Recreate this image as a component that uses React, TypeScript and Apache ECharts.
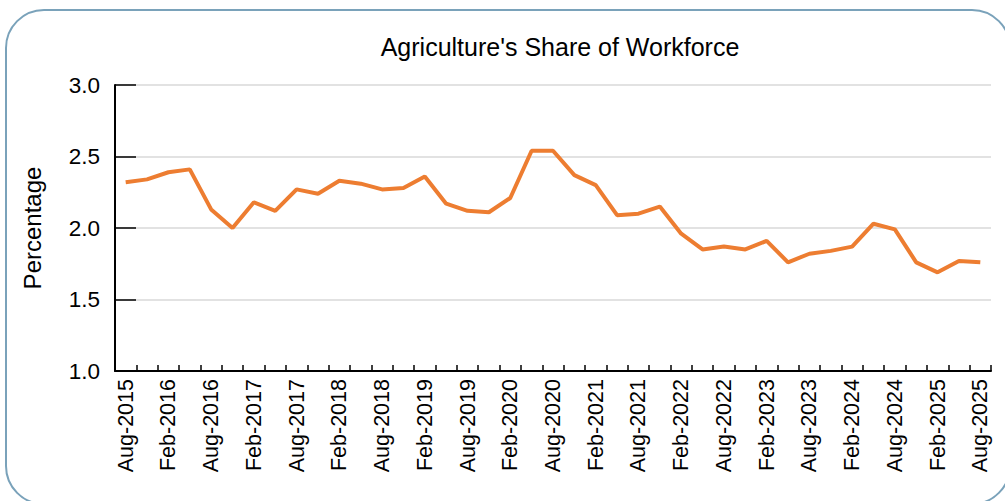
import React, { useEffect, useRef } from "react";
import * as echarts from "echarts";

const categories: string[] = [
  "Aug-2015", "Nov-2015", "Feb-2016", "May-2016", "Aug-2016", "Nov-2016", "Feb-2017", "May-2017",
  "Aug-2017", "Nov-2017", "Feb-2018", "May-2018", "Aug-2018", "Nov-2018", "Feb-2019", "May-2019",
  "Aug-2019", "Nov-2019", "Feb-2020", "May-2020", "Aug-2020", "Nov-2020", "Feb-2021", "May-2021",
  "Aug-2021", "Nov-2021", "Feb-2022", "May-2022", "Aug-2022", "Nov-2022", "Feb-2023", "May-2023",
  "Aug-2023", "Nov-2023", "Feb-2024", "May-2024", "Aug-2024", "Nov-2024", "Feb-2025", "May-2025",
  "Aug-2025",
];

const agricultureShare: number[] = [
  2.32, 2.34, 2.39, 2.41, 2.13, 2.0, 2.18, 2.12,
  2.27, 2.24, 2.33, 2.31, 2.27, 2.28, 2.36, 2.17,
  2.12, 2.11, 2.21, 2.54, 2.54, 2.37, 2.3, 2.09,
  2.1, 2.15, 1.96, 1.85, 1.87, 1.85, 1.91, 1.76,
  1.82, 1.84, 1.87, 2.03, 1.99, 1.76, 1.69, 1.77,
  1.76,
];

const titleText = "Agriculture's Share of Workforce";
const yAxisName = "Percentage";

export default function App() {
  const ref = useRef<HTMLDivElement>(null);
  useEffect(() => {
    if (!ref.current) return;
    const chart = echarts.init(ref.current, null, { renderer: "svg" });
    const font = "'Liberation Sans', Arial, sans-serif";
    chart.setOption({
      animation: false,
      backgroundColor: "#ffffff",
      title: {
        text: titleText,
        left: 555,
        textAlign: "center",
        top: 29,
        textStyle: { fontFamily: font, fontSize: 25, fontWeight: "normal", color: "#000" },
      },
      graphic: [
        {
          type: "rect",
          shape: { x: 6, y: 10, width: 1004, height: 494, r: 38 },
          style: { fill: "none", stroke: "#7aa2ba", lineWidth: 2 },
          silent: true,
        },
      ],
      grid: { left: 115, right: 14, top: 85, bottom: 130, containLabel: false },
      xAxis: {
        type: "category",
        data: categories,
        boundaryGap: true,
        axisLine: { show: true, lineStyle: { color: "#000", width: 2 } },
        axisTick: { show: true, inside: true, length: 6, interval: 0, lineStyle: { color: "#000", width: 1.5 } },
        axisLabel: {
          interval: 1,
          rotate: 90,
          margin: 8,
          fontFamily: font,
          fontSize: 21.5,
          color: "#000",
        },
        splitLine: { show: false },
      },
      yAxis: {
        type: "value",
        min: 1,
        max: 3,
        interval: 0.5,
        name: yAxisName,
        nameLocation: "middle",
        nameGap: 71,
        nameTextStyle: { fontFamily: font, fontSize: 24, color: "#000" },
        axisLine: { show: true, lineStyle: { color: "#000", width: 2 } },
        axisTick: { show: true, inside: true, length: 21, lineStyle: { color: "#000", width: 1.5 } },
        axisLabel: {
          margin: 15,
          fontFamily: font,
          fontSize: 22.5,
          color: "#000",
          formatter: (v: number) => v.toFixed(1),
        },
        splitLine: { show: true, lineStyle: { color: "#d9d9d9", width: 1.5 } },
      },
      series: [
        {
          type: "line",
          data: agricultureShare,
          showSymbol: false,
          symbol: "none",
          lineStyle: { color: "#ED7D31", width: 4 },
          itemStyle: { color: "#ED7D31" },
        },
      ],
    });
    return () => chart.dispose();
  }, []);
  return (
    <div
      ref={ref}
      style={{ position: "absolute", left: 0, top: 0, width: 1005, height: 501 }}
    />
  );
}
